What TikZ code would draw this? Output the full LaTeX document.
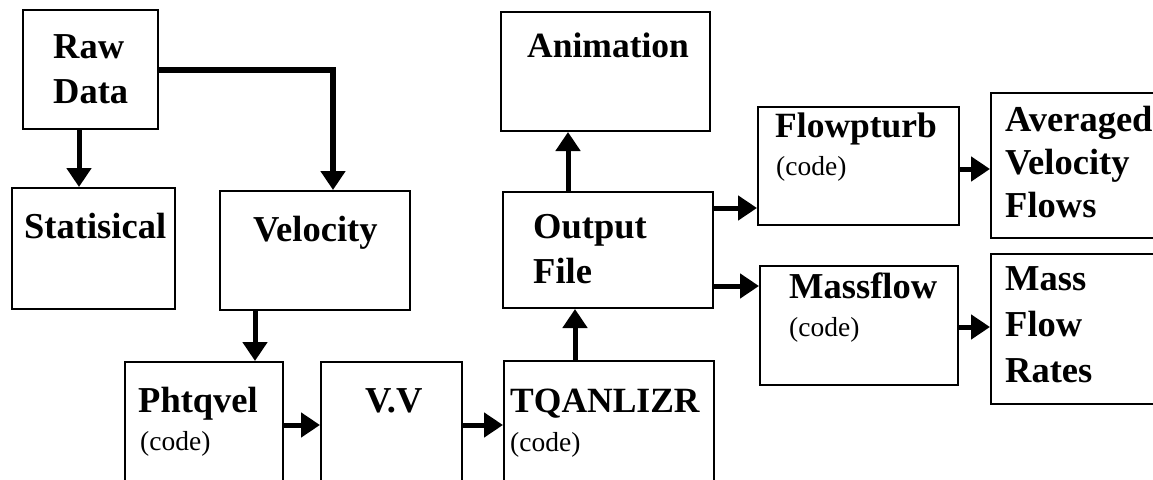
\documentclass[tikz,border=0pt]{standalone}
\usepackage{fontspec}
\setmainfont{Liberation Serif}
\usetikzlibrary{arrows.meta}
\tikzset{
  box/.style={draw, line width=2pt, inner sep=0pt, anchor=north west},
  ttl/.style={font=\bfseries\fontsize{36.5}{45}\selectfont, anchor=base west, inner sep=0pt, align=left},
  cd/.style={font=\fontsize{27.5}{32}\selectfont, anchor=base west, inner sep=0pt},
  arr/.style={line width=5pt, -{Triangle[length=19pt,width=24pt]}}
}
\begin{document}
\begin{tikzpicture}[x=1pt,y=-1pt]
\clip (0,0) rectangle (1153,479);
\fill[white] (0,0) rectangle (1153,479);
% boxes
\node[box, minimum width=135pt, minimum height=119pt] (raw) at (22,9) {};
\node[box, minimum width=163pt, minimum height=121pt] (stat) at (11,187) {};
\node[box, minimum width=190pt, minimum height=119pt] (vel) at (219,190) {};
\node[box, minimum width=158pt, minimum height=140pt] (pht) at (124,361) {};
\node[box, minimum width=141pt, minimum height=140pt] (vv) at (320,361) {};
\node[box, minimum width=210pt, minimum height=140pt] (tq) at (503,360) {};
\node[box, minimum width=209pt, minimum height=119pt] (anim) at (500,11) {};
\node[box, minimum width=210pt, minimum height=116pt] (out) at (502,191) {};
\node[box, minimum width=201pt, minimum height=118pt] (flow) at (757,106) {};
\node[box, minimum width=198pt, minimum height=119pt] (mass) at (759,265) {};
\node[box, minimum width=180pt, minimum height=145pt] (avg) at (990,92) {};
\node[box, minimum width=180pt, minimum height=150pt] (rates) at (990,253) {};
% texts
\node[ttl] (rawT) at (53,103) {Raw\\Data};
\node[ttl] (statT) at (24,238) {Statisical};
\node[ttl] (velT) at (253,241) {Velocity};
\node[ttl] (phtT) at (138,412) {Phtqvel};
\node[cd] (phtC) at (140,450) {(code)};
\node[ttl] (vvT) at (365,412) {V.V};
\node[ttl, font=\bfseries\fontsize{35.5}{45}\selectfont] (tqT) at (510,412) {TQANLIZR};
\node[cd] (tqC) at (510,451) {(code)};
\node[ttl, font=\bfseries\fontsize{35.5}{45}\selectfont] (animT) at (527,57) {Animation};
\node[ttl] (outT) at (533,283) {Output\\File};
\node[ttl, font=\bfseries\fontsize{35.5}{45}\selectfont] (flowT) at (775,137) {Flowpturb};
\node[cd] (flowC) at (776,175) {(code)};
\node[ttl] (massT) at (789,298) {Massflow};
\node[cd] (massC) at (789,336) {(code)};
\node[ttl, font=\bfseries\fontsize{36.5}{43}\selectfont] (avgT) at (1005,217) {Averaged\\Velocity\\Flows};
\node[ttl, font=\bfseries\fontsize{36.5}{46}\selectfont] (ratesT) at (1005,382) {Mass\\Flow\\Rates};
% connectors
\draw[arr] (raw.south -| 79,0) -- (stat.north -| 79,0);
\draw[arr, line width=5.5pt] (raw.east |- 0,70) -| (vel.north -| 333,0);
\draw[arr] (vel.south -| 255,0) -- (pht.north -| 255,0);
\draw[arr] (pht.east |- 0,425) -- (vv.west |- 0,425);
\draw[arr] (vv.east |- 0,425) -- (tq.west |- 0,425);
\draw[arr] (tq.north -| 575,0) -- (out.south -| 575,0);
\draw[arr] (out.north -| 568,0) -- (anim.south -| 568,0);
\draw[arr] (out.east |- 0,208) -- (flow.west |- 0,208);
\draw[arr] (out.east |- 0,286) -- (mass.west |- 0,286);
\draw[arr] (flow.east |- 0,169) -- (avg.west |- 0,169);
\draw[arr] (mass.east |- 0,327) -- (rates.west |- 0,327);
\end{tikzpicture}
\end{document}
